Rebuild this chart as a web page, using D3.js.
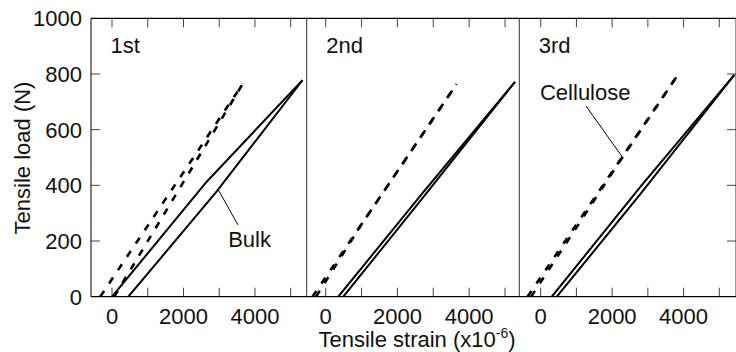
<!DOCTYPE html>
<html><head><meta charset="utf-8">
<script src="https://cdn.jsdelivr.net/npm/d3@7"></script>
<style>body{margin:0;background:#fff}svg{display:block}text{font-family:"Liberation Sans",Arial,sans-serif;fill:#111}</style>
</head><body><svg id="c" width="736" height="352"></svg>
<script>
// ---- data ----
const panelLabels = ["1st", "2nd", "3rd"];
const xTickValues = [0, 1000, 2000, 3000, 4000, 5000];
const xTickLabels = [0, 2000, 4000];
const yTickValues = [0, 200, 400, 600, 800, 1000];
// Bulk (solid) curves: [strain x1e-6, load N]
const bulk1a = [[0, 0], [2650, 413], [5330, 778]];
const bulk1b = [[456, 0], [2930, 378], [5330, 778]];
const bulk2a = [[350, 0], [2700, 372], [5280, 772]];
const bulk2b = [[490, 0], [2700, 354], [5280, 772]];
const bulk3a = [[310, 0], [2800, 396], [5420, 797]];
const bulk3b = [[450, 0], [2800, 370], [5420, 797]];
// Cellulose (dashed) curves
const cell1a = [[-330, 0], [3660, 765]];
const cell1b = [[60, 0], [2885, 600], [3660, 765]];
const cell2a = [[-370, 0], [3650, 764]];
const cell2b = [[-270, 0], [1000, 260], [3650, 764]];
const cell3a = [[-370, 0], [3835, 796]];
const cell3b = [[-270, 0], [2140, 472], [3835, 796]];
const bulkSeries = [[bulk1a, bulk1b], [bulk2a, bulk2b], [bulk3a, bulk3b]];
const cellSeries = [[cell1a, cell1b], [cell2a, cell2b], [cell3a, cell3b]];
// annotations: panel, label, text anchor point, leader from, leader to (data coords)
const annotations = [
  {panel: 0, text: "Bulk", at: [3250, 180], from: [3525, 258], to: [2974, 384]},
  {panel: 2, text: "Cellulose", at: [-20, 705], from: [1268, 685], to: [2312, 497]}
];

// ---- layout ----
const svg = d3.select("#c");
const yTop = 18.3, yBot = 296.7;
const edges = [91, 306.7, 519.3, 736];
const zeroPx = [112, 325.7, 540.7];
const fivePx = [290.7, 505, 719.3];
const y = d3.scaleLinear().domain([0, 1000]).range([yBot, yTop]);
const xs = zeroPx.map((z, i) => d3.scaleLinear().domain([0, 5000]).range([z, fivePx[i]]));
const FS = 22;

const defs = svg.append("defs");
panelLabels.forEach((p, i) => {
  defs.append("clipPath").attr("id", "clip" + i).append("rect")
    .attr("x", edges[i]).attr("y", yTop - 6).attr("width", edges[i + 1] - edges[i]).attr("height", yBot - yTop + 6);
});

panelLabels.forEach((p, i) => {
  const x = xs[i];
  const g = svg.append("g");
  xTickValues.forEach(v => {
    const px = x(v);
    g.append("line").attr("x1", px).attr("x2", px).attr("y1", yTop).attr("y2", yTop + 9).attr("stroke", "#444").attr("stroke-width", 1);
    g.append("line").attr("x1", px).attr("x2", px).attr("y1", yBot).attr("y2", yBot - 9).attr("stroke", "#444").attr("stroke-width", 1);
  });
  xTickLabels.forEach(v => {
    g.append("text").attr("x", x(v)).attr("y", 323.5).attr("text-anchor", "middle").attr("font-size", FS).text(v);
  });
  g.append("text").attr("x", edges[i] + 19.5).attr("y", 53).attr("font-size", FS).text(p);

  const line = d3.line().x(d => x(d[0])).y(d => y(d[1]));
  const lg = svg.append("g").attr("clip-path", `url(#clip${i})`);
  cellSeries[i].forEach(s => {
    lg.append("path").attr("d", line(s)).attr("fill", "none").attr("stroke", "#000")
      .attr("stroke-width", 2.6).attr("stroke-dasharray", "7,9");
  });
  bulkSeries[i].forEach(s => {
    lg.append("path").attr("d", line(s)).attr("fill", "none").attr("stroke", "#000")
      .attr("stroke-width", 2).attr("stroke-linejoin", "miter");
  });
});

yTickValues.slice(1, -1).forEach(v => {
  svg.append("line").attr("x1", edges[0]).attr("x2", edges[0] + 9).attr("y1", y(v)).attr("y2", y(v)).attr("stroke", "#444");
  svg.append("line").attr("x1", edges[3]).attr("x2", edges[3] - 9).attr("y1", y(v)).attr("y2", y(v)).attr("stroke", "#444");
});
yTickValues.forEach(v => {
  svg.append("text").attr("x", 82).attr("y", y(v) + 8).attr("text-anchor", "end").attr("font-size", FS).text(v);
});

svg.append("line").attr("x1", edges[0]).attr("x2", 736).attr("y1", yTop).attr("y2", yTop).attr("stroke", "#000").attr("stroke-width", 1.2);
svg.append("line").attr("x1", edges[0]).attr("x2", 736).attr("y1", yBot).attr("y2", yBot).attr("stroke", "#000").attr("stroke-width", 1.2);
edges.forEach((e, i) => {
  svg.append("line").attr("x1", e).attr("x2", e).attr("y1", yTop).attr("y2", yBot)
    .attr("stroke", i === 0 ? "#000" : "#333").attr("stroke-width", 1);
});

annotations.forEach(a => {
  const x = xs[a.panel];
  svg.append("line").attr("x1", x(a.from[0])).attr("y1", y(a.from[1])).attr("x2", x(a.to[0])).attr("y2", y(a.to[1]))
    .attr("stroke", "#000").attr("stroke-width", 1);
  svg.append("text").attr("x", x(a.at[0])).attr("y", y(a.at[1])).attr("font-size", FS).text(a.text);
});

const xt = svg.append("text").attr("x", 417).attr("y", 347).attr("text-anchor", "middle").attr("font-size", FS);
xt.append("tspan").text("Tensile strain (x10");
xt.append("tspan").attr("font-size", 14).attr("dy", -9).text("-6");
xt.append("tspan").attr("dy", 9).text(")");
svg.append("text").attr("transform", "translate(30,158) rotate(-90)").attr("text-anchor", "middle").attr("font-size", FS).text("Tensile load (N)");
</script></body></html>
